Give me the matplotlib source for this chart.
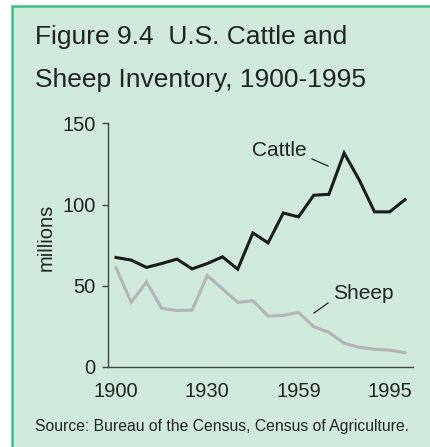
import matplotlib
matplotlib.use("Agg")
import matplotlib.pyplot as plt
from matplotlib.patches import Rectangle
from matplotlib.lines import Line2D

# Data (millions head), census points from 1900 to 1995
cattle = [67.4, 65.8, 61.3, 63.7, 66.4, 60.4, 63.7, 67.8, 60.2, 82.5,
          76.4, 94.8, 92.4, 105.7, 106.3, 131.7, 115.0, 95.5, 95.5, 103.0]
sheep = [61.0, 39.8, 52.4, 36.1, 34.8, 35.0, 56.3, 48.1, 39.8, 40.8,
         31.3, 31.8, 33.6, 24.8, 21.3, 14.6, 12.1, 10.9, 10.4, 8.8]
xtick_idx = [0, 6, 12, 18]
xtick_labels = ["1900", "1930", "1959", "1995"]
yticks = [0, 50, 100, 150]

plt.rcParams['font.family'] = ['Liberation Sans', 'DejaVu Sans']

W, H = 430, 447
fig = plt.figure(figsize=(W / 100, H / 100), dpi=100)
fig.patch.set_facecolor("white")

bg = "#cfe9db"
border = "#3dbf83"
fig.patches.append(Rectangle((12 / W, -0.2), 1.5, 1 - 5.5 / H + 0.2,
                             transform=fig.transFigure, facecolor=bg,
                             edgecolor=border, linewidth=1.8, zorder=-5))

txt = "#222222"
fig.text(35 / W, 1 - 44 / H, "Figure 9.4  U.S. Cattle and", fontsize=19,
         color=txt, ha="left", va="baseline")
fig.text(35 / W, 1 - 87 / H, "Sheep Inventory, 1900-1995", fontsize=19,
         color=txt, ha="left", va="baseline")
fig.text(35 / W, 1 - 431 / H, "Source: Bureau of the Census, Census of Agriculture.",
         fontsize=11.3, color=txt, ha="left", va="baseline")

ax = fig.add_axes([108 / W, 80 / H, 305 / W, 243.7 / H], zorder=2)
ax.set_facecolor("none")
x = list(range(len(cattle)))
ax.plot(x, sheep, color="#b3b3b8", linewidth=2.2, solid_joinstyle="miter")
ax.plot(x, cattle, color="#1a1a1a", linewidth=2.2, solid_joinstyle="miter")

ax.set_xlim(-0.53, 19.53)
ax.set_ylim(0, 150)
ax.set_yticks(yticks)
ax.set_xticks(xtick_idx)
ax.set_xticklabels(xtick_labels)
for s in ["top", "right"]:
    ax.spines[s].set_visible(False)
for s in ["left", "bottom"]:
    ax.spines[s].set_color("#444444")
    ax.spines[s].set_linewidth(1.0)
fs = 14.5
ax.tick_params(axis="y", length=4, width=1, color="#444444", pad=5,
               labelsize=fs, labelcolor=txt)
ax.tick_params(axis="x", length=0, pad=11, labelsize=fs, labelcolor=txt)
ax.set_ylabel("millions", fontsize=fs, color=txt, va="center", ha="center")
ax.yaxis.set_label_coords((46 - 108) / 305, (367 - 237) / 243.7)

# series labels with leader lines
fig.text(252 / W, 1 - 156 / H, "Cattle", fontsize=15, color=txt,
         ha="left", va="baseline", zorder=3)
fig.add_artist(Line2D([312 / W, 328 / W], [1 - 159 / H, 1 - 166 / H],
                      color=txt, linewidth=0.9, zorder=3))
fig.text(333 / W, 1 - 299 / H, "Sheep", fontsize=15, color=txt,
         ha="left", va="baseline", zorder=3)
fig.add_artist(Line2D([328 / W, 314 / W], [1 - 303 / H, 1 - 313 / H],
                      color=txt, linewidth=0.9, zorder=3))

fig.savefig("out.png", dpi=100, facecolor="white")
